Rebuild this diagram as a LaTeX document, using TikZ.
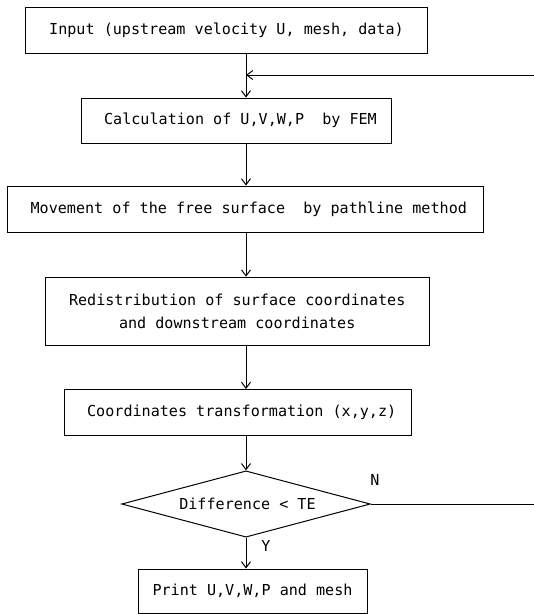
\documentclass[tikz,border=0pt]{standalone}
\usepackage{fontspec}
\setmonofont{DejaVu Sans Mono}
\usetikzlibrary{arrows.meta,shapes.geometric}
\begin{document}
\begin{tikzpicture}[x=1pt,y=-1pt,
  every node/.style={font=\ttfamily\fontsize{15.1}{22.7}\selectfont},
  flowbox/.style={draw,line width=1pt,rectangle,inner sep=0pt,align=center},
  decision/.style={draw,line width=1pt,diamond,inner sep=0pt,aspect=3.75},
  flow/.style={line width=1pt,-{Straight Barb[length=6pt,width=9pt]}},
  plain/.style={line width=1pt},
  tag/.style={inner sep=0pt}]
\useasboundingbox (0,0) rectangle (534,614);
\node[flowbox,minimum width=402pt,minimum height=46pt] (b1) at (226.5,30) {Input (upstream velocity U, mesh, data)};
\node[flowbox,minimum width=310pt,minimum height=45pt] (b2) at (236,120.5) {\hspace*{9pt}Calculation of U,V,W,P\ \ by FEM};
\node[flowbox,minimum width=475.5pt,minimum height=46pt] (b3) at (245.3,209) {\hspace*{7pt}Movement of the free surface\ \ by pathline method};
\node[flowbox,minimum width=384pt,minimum height=68pt] (b4) at (237.2,311.2) {Redistribution of surface coordinates\\and downstream coordinates};
\node[flowbox,minimum width=347.4pt,minimum height=46pt] (b5) at (237.7,412.5) {\hspace*{8pt}Coordinates transformation (x,y,z)};
\node[decision,minimum width=248.6pt,minimum height=66.3pt] (d) at (246,504) {};
\node[tag] (dt) at (247.5,504) {Difference < TE};
\node[flowbox,minimum width=229pt,minimum height=44pt] (b6) at (252.5,591) {Print U,V,W,P and mesh};
\node[tag] (n) at (375,480) {N};
\node[tag] (y) at (266,546) {Y};
\coordinate (spine) at (246,0);
\coordinate (fbR) at (534,75);
\coordinate (nR) at (534,504);
\draw[flow] (b1.south -| spine) -- (b2.north -| spine);
\draw[flow] (fbR) -- (fbR -| spine);
\draw[flow] (b2.south -| spine) -- (b3.north -| spine);
\draw[flow] (b3.south -| spine) -- (b4.north -| spine);
\draw[flow] (b4.south -| spine) -- (b5.north -| spine);
\draw[flow] (b5.south -| d.north) -- (d.north);
\draw[flow] (d.south) -- (b6.north -| d.south);
\draw[plain] (d.east) -- (nR);
\end{tikzpicture}
\end{document}
